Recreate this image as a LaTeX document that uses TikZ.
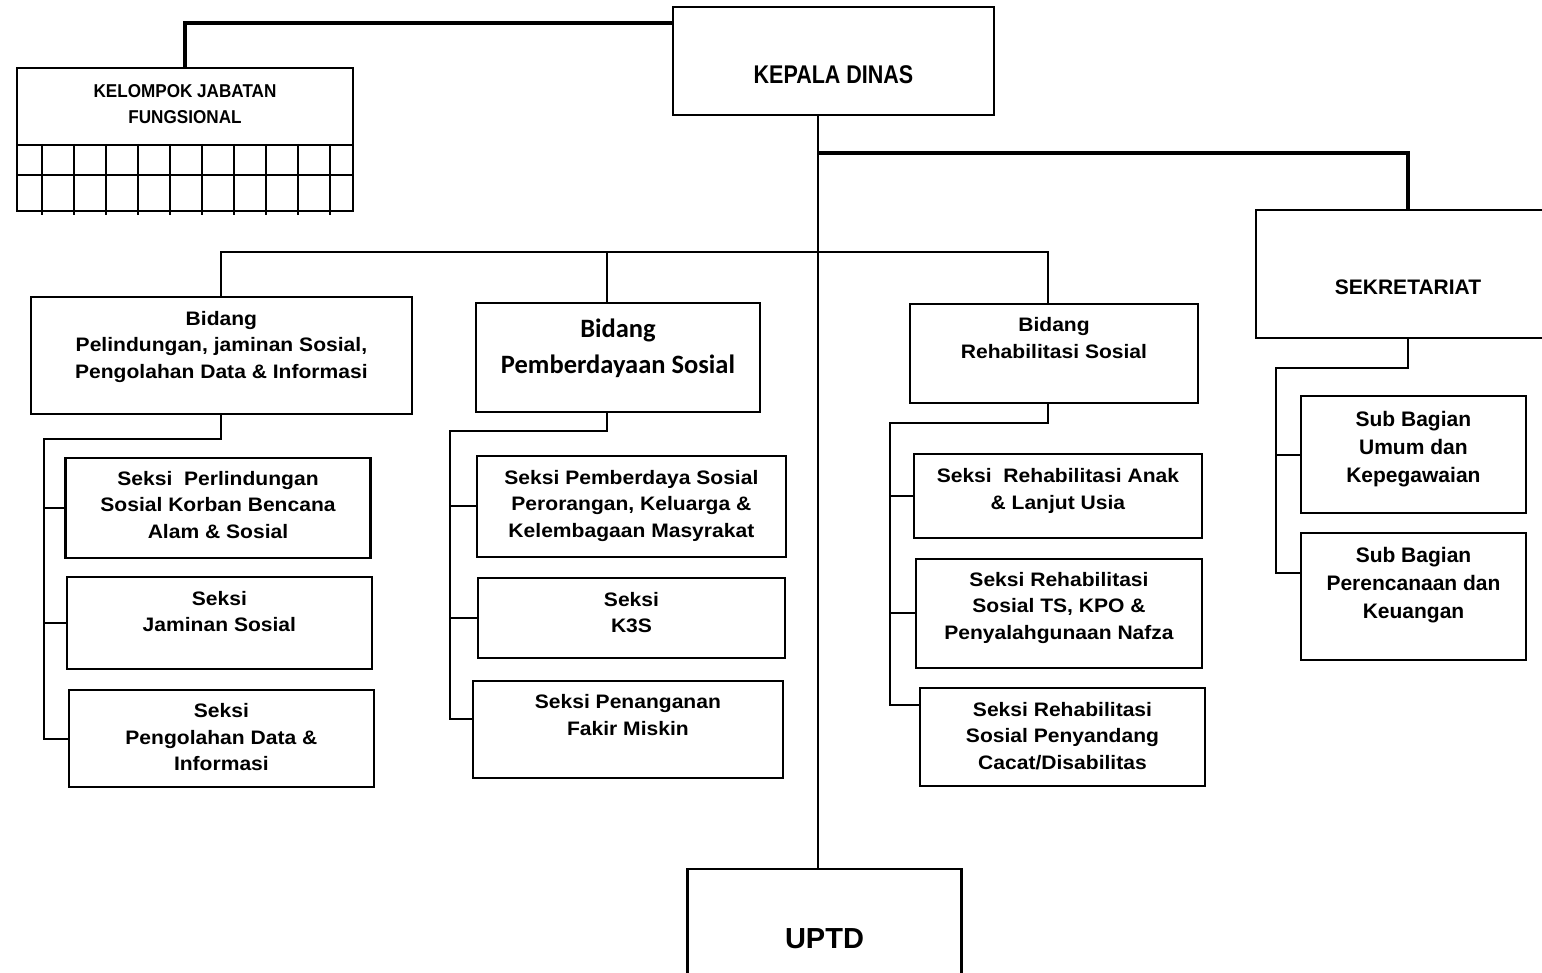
\documentclass[tikz,border=0pt]{standalone}
\usepackage{fontspec}
\setmainfont{Liberation Sans}
\newfontfamily\widefont[FakeStretch=1.08]{Liberation Sans}
\newfontfamily\narrowfont[FakeStretch=0.84]{Liberation Sans}
\newfontfamily\kjffont[FakeStretch=0.92]{Liberation Sans}
\newfontfamily\calfont{Carlito}

\begin{document}
\begin{tikzpicture}[x=1pt,y=-1pt,
		box/.style={rectangle,draw,line width=2.1pt,inner sep=0pt},
		lbl/.style={anchor=north,align=center,inner sep=0pt,font={\widefont\bfseries\fontsize{19.5}{26.5}\selectfont}},
		sub/.style={lbl,font={\bfseries\fontsize{21}{28}\selectfont}},
		line/.style={line width=2pt},
		trunk/.style={line width=3.8pt}]
		\useasboundingbox (0,0) rectangle (1542,973);
		\clip (0,0) rectangle (1542,973);

		\node[box,minimum width=321,minimum height=108,label={[lbl,font={\narrowfont\bfseries\fontsize{25.6}{30}\selectfont},yshift=-59pt]north:KEPALA DINAS}] (kd) at (833.5,61) {};
		\node[box,minimum width=336,minimum height=143,label={[lbl,font={\kjffont\bfseries\fontsize{18.6}{26.6}\selectfont},yshift=-17pt]north:{KELOMPOK JABATAN\\FUNGSIONAL}}] (kjf) at (185,139.5) {};
		\node[box,minimum width=304,minimum height=128,label={[sub,yshift=-70.5pt]north:SEKRETARIAT}] (sek) at (1408,274) {};
		\node[box,minimum width=274,minimum height=140,font={\bfseries\fontsize{29}{34}\selectfont}] (uptd) at (824.5,939) {UPTD};

		\node[box,minimum width=381,minimum height=117,label={[lbl,yshift=-15pt]north:{Bidang\\Pelindungan, jaminan Sosial,\\Pengolahan Data \& Informasi}}] (bid1) at (221.4,355.5) {};
		\node[box,minimum width=284,minimum height=109,label={[lbl,font={\calfont\bfseries\fontsize{26.5}{36}\selectfont},yshift=-17pt]north:{Bidang\\Pemberdayaan Sosial}}] (bid2) at (618,357.4) {};
		\node[box,minimum width=288,minimum height=99,label={[lbl,yshift=-14.7pt]north:{Bidang\\Rehabilitasi Sosial}}] (bid3) at (1054,353.4) {};

		\node[box,minimum width=305,minimum height=100,label={[lbl,yshift=-14pt]north:{Seksi~ Perlindungan\\Sosial Korban Bencana\\Alam \& Sosial}}] (pj1) at (218,508) {};
		\node[box,minimum width=305,minimum height=92,label={[lbl,yshift=-15pt]north:{Seksi\\Jaminan Sosial}}] (pj2) at (219.4,623) {};
		\node[box,minimum width=305,minimum height=97,label={[lbl,yshift=-14.7pt]north:{Seksi\\Pengolahan Data \&\\Informasi}}] (pj3) at (221.4,738.5) {};

		\node[box,minimum width=309,minimum height=101,label={[lbl,yshift=-15pt]north:{Seksi Pemberdaya Sosial\\Perorangan, Keluarga \&\\Kelembagaan Masyrakat}}] (pb1) at (631.4,506.4) {};
		\node[box,minimum width=307,minimum height=80,label={[lbl,yshift=-15pt]north:{Seksi\\K3S}}] (pb2) at (631.5,618) {};
		\node[box,minimum width=310,minimum height=97,label={[lbl,yshift=-14.7pt]north:{Seksi Penanganan\\Fakir Miskin}}] (pb3) at (627.9,729.4) {};

		\node[box,minimum width=288,minimum height=84,label={[lbl,yshift=-15.7pt]north:{Seksi~ Rehabilitasi Anak\\\& Lanjut Usia}}] (rs1) at (1057.9,496) {};
		\node[box,minimum width=286,minimum height=109,label={[lbl,yshift=-14pt]north:{Seksi Rehabilitasi\\Sosial TS, KPO \&\\Penyalahgunaan Nafza}}] (rs2) at (1059,613.4) {};
		\node[box,minimum width=285,minimum height=98,label={[lbl,yshift=-15pt]north:{Seksi Rehabilitasi\\Sosial Penyandang\\Cacat/Disabilitas}}] (rs3) at (1062.5,736.9) {};

		\node[box,minimum width=225,minimum height=117,label={[sub,yshift=-16.5pt]north:{Sub Bagian\\Umum dan\\Kepegawaian}}] (sb1) at (1413.4,454.5) {};
		\node[box,minimum width=225,minimum height=127,label={[sub,yshift=-14.8pt]north:{Sub Bagian\\Perencanaan dan\\Keuangan}}] (sb2) at (1413.5,596.4) {};

		\foreach \y in {145.5,175.5}
			\draw[line] (17,\y) -- (353,\y);
		\foreach \i in {0,...,9}
			\draw[line] (41.7+32*\i,144) -- ++(0,71);

		\coordinate (spine) at (818,0);
		\coordinate (topbus) at (0,23);
		\coordinate (secbus) at (818,153);
		\coordinate (bidbus) at (0,252);
		\coordinate (c2) at ([xshift=-11pt]bid2.north);
		\coordinate (c3) at ([xshift=-6pt]bid3.north);
		\coordinate (c2b) at ([xshift=-11pt]bid2.south);
		\coordinate (c3b) at ([xshift=-6pt]bid3.south);
		\coordinate (r1) at (44,439);
		\coordinate (r2) at (450,431);
		\coordinate (r3) at (890,423);
		\coordinate (r4) at (1276,368);

		\draw[trunk] (kjf.north) |- (kd.west |- topbus);
		\draw[line] (kd.south -| spine) -- (uptd.north -| spine);
		\draw[trunk] (secbus) -| (sek.north);
		\draw[line] (bid1.north) |- (c3 |- bidbus) -- (c3);
		\draw[line] (c2 |- bidbus) -- (c2);

		\draw[line] (bid1.south) |- (r1) |- (pj3.west);
		\draw[line] (r1 |- pj1.west) -- (pj1.west);
		\draw[line] (r1 |- pj2.west) -- (pj2.west);

		\draw[line] (c2b) |- (r2) |- ([yshift=10pt]pb3.west);
		\draw[line] (r2 |- pb1.west) -- (pb1.west);
		\draw[line] (r2 |- pb2.west) -- (pb2.west);

		\draw[line] (c3b) |- (r3) |- ([yshift=32pt]rs3.west);
		\draw[line] (r3 |- rs1.west) -- (rs1.west);
		\draw[line] (r3 |- rs2.west) -- (rs2.west);

		\draw[line] (sek.south) |- (r4) |- ([yshift=23pt]sb2.west);
		\draw[line] (r4 |- sb1.west) -- (sb1.west);
\end{tikzpicture}
\end{document}
